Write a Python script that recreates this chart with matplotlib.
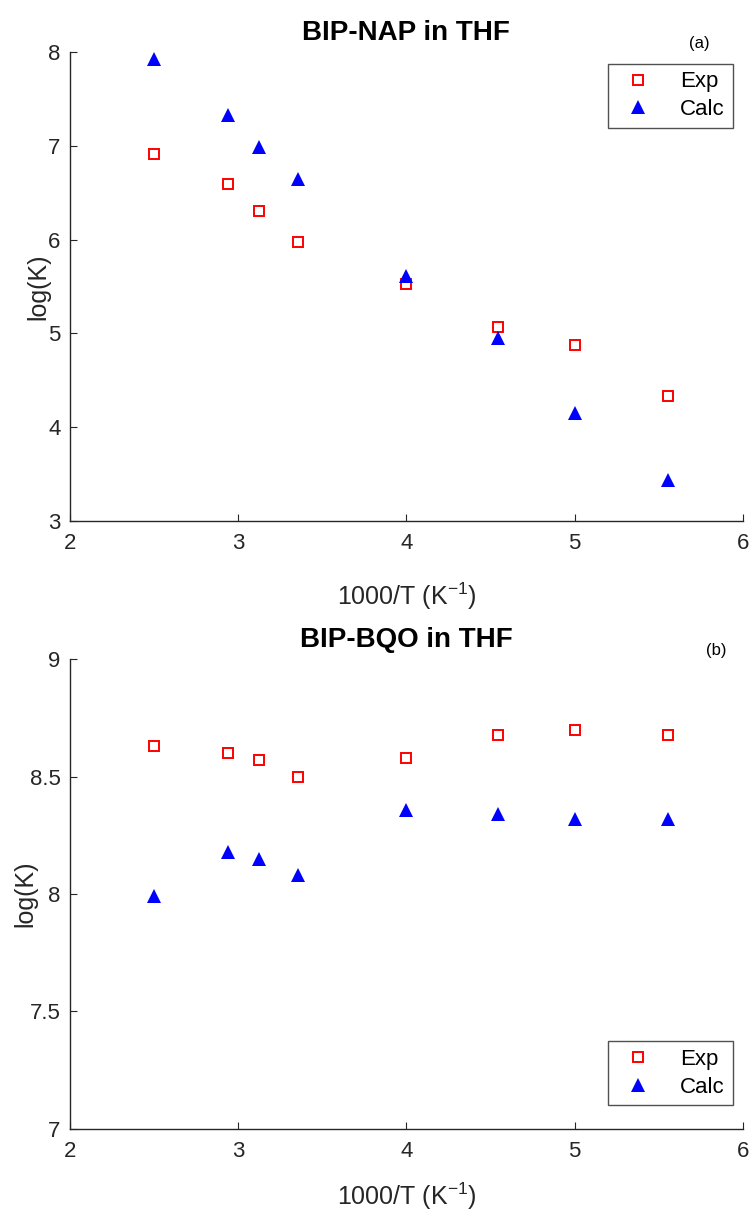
import matplotlib
matplotlib.use('Agg')
import matplotlib.pyplot as plt

# 1000/T values (K^-1)
invT = [2.5, 2.94, 3.125, 3.356, 4.0, 4.545, 5.0, 5.556]

# BIP-NAP in THF
nap_exp = [6.91, 6.59, 6.31, 5.98, 5.53, 5.07, 4.88, 4.33]
nap_calc = [7.93, 7.33, 6.99, 6.65, 5.61, 4.95, 4.15, 3.43]

# BIP-BQO in THF
bqo_exp = [8.63, 8.60, 8.57, 8.50, 8.58, 8.68, 8.70, 8.68]
bqo_calc = [7.99, 8.18, 8.15, 8.08, 8.36, 8.34, 8.32, 8.32]

plt.rcParams['font.family'] = ['Liberation Sans', 'DejaVu Sans']
plt.rcParams['mathtext.default'] = 'regular'

fig = plt.figure(figsize=(7.54, 12.19), dpi=100)
ax1 = fig.add_axes([0.093, 0.573, 0.892, 0.384])
ax2 = fig.add_axes([0.093, 0.074, 0.892, 0.385])

# axes, data, y range, y ticks, title, tag, tag x, legend loc, legend anchor, ylabel x, xlabel pad
panels = [
    (ax1, nap_exp, nap_calc, (3, 8), [3, 4, 5, 6, 7, 8], 'BIP-NAP in THF', '(a)', 0.936,
     'upper right', (0.985, 0.976), -0.030, 19),
    (ax2, bqo_exp, bqo_calc, (7, 9), [7, 7.5, 8, 8.5, 9], 'BIP-BQO in THF', '(b)', 0.961,
     'lower right', (0.985, 0.05), -0.049, 13),
]

for ax, ye, yc, ylim, yt, title, tag, tx, loc, anchor, ylx, xlp in panels:
    ax.plot(invT, ye, 's', mfc='none', mec='red', ms=7.5, mew=1.4, label='Exp')
    ax.plot(invT, yc, '^', color='blue', ms=10.5, mew=0, label='Calc')
    ax.set_xlim(2, 6)
    ax.set_ylim(*ylim)
    ax.set_yticks(yt)
    ax.set_yticklabels([('%g' % v) for v in yt])
    ax.set_xticks([2, 3, 4, 5, 6])
    for s in ['top', 'right']:
        ax.spines[s].set_visible(False)
    for s in ['left', 'bottom']:
        ax.spines[s].set_color('#262626')
        ax.spines[s].set_linewidth(1.0)
    ax.tick_params(direction='in', length=5, colors='#262626', labelsize=16, pad=7)
    ax.tick_params(axis='x', pad=9)
    ax.set_xlabel('1000/T (K$^{-1}$)', fontsize=18, color='#262626', labelpad=xlp)
    ax.set_ylabel('log(K)', fontsize=18, color='#262626')
    ax.yaxis.set_label_coords(ylx, 0.5)
    ax.set_title(title, fontsize=20, fontweight='bold', pad=9)
    ax.text(tx, 1.003, tag, transform=ax.transAxes, fontsize=12, ha='center', va='bottom')
    leg = ax.legend(loc=loc, bbox_to_anchor=anchor, borderaxespad=0, fontsize=16,
                    frameon=True, fancybox=False, edgecolor='#262626',
                    handletextpad=0.9, borderpad=0.35, labelspacing=0.3)
    leg.get_frame().set_linewidth(1.0)

fig.savefig('out.png', dpi=100)
